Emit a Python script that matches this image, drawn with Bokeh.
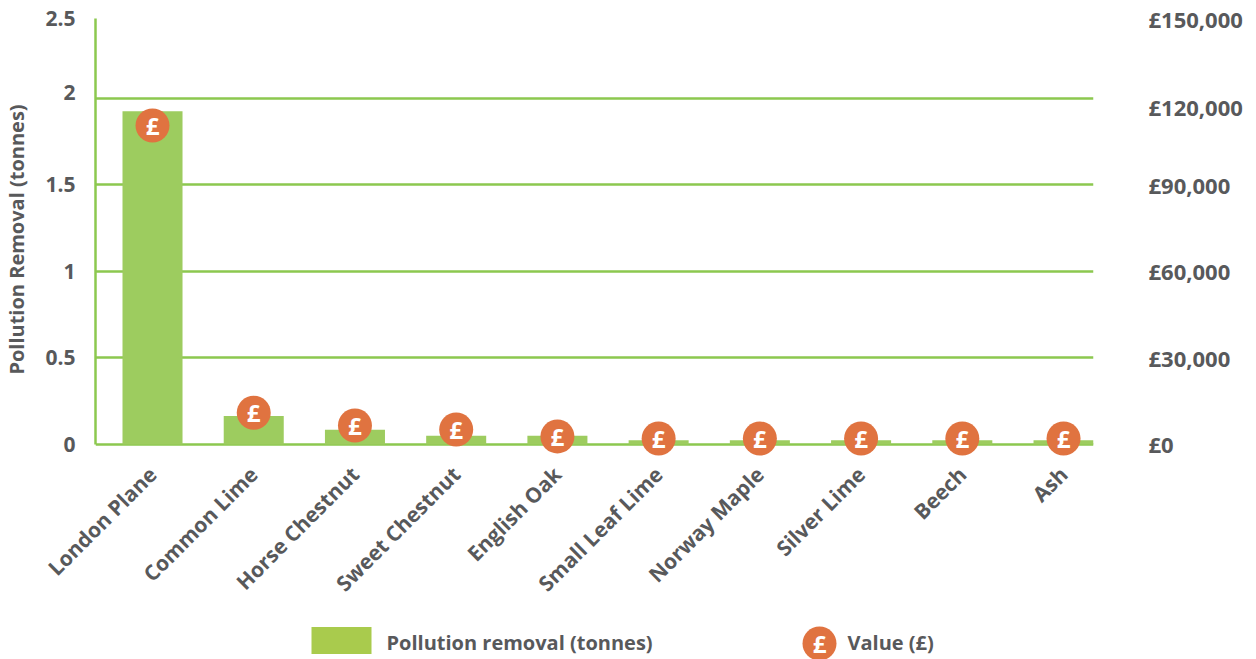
import math
from bokeh.plotting import figure
from bokeh.layouts import column
from bokeh.models import Range1d, LinearAxis, FixedTicker
from bokeh.core.properties import value
from bokeh.embed import file_html
from bokeh.resources import INLINE

categories = ["London Plane", "Common Lime", "Horse Chestnut", "Sweet Chestnut", "English Oak",
              "Small Leaf Lime", "Norway Maple", "Silver Lime", "Beech", "Ash"]
pollution_tonnes = [1.925, 0.165, 0.085, 0.05, 0.05, 0.025, 0.025, 0.025, 0.025, 0.025]
value_gbp = [110500, 11000, 6600, 5200, 2800, 2100, 2100, 2100, 2100, 2100]
left_ticks = [0, 0.5, 1, 1.5, 2.035, 2.46]
left_labels = ["0", "0.5", "1", "1.5", "2", "2.5"]
right_ticks = [0, 30000, 60000, 90000, 116900, 147600]
right_labels = ["£0", "£30,000", "£60,000", "£90,000", "£120,000", "£150,000"]
legend_labels = ["Pollution removal (tonnes)", "Value (£)"]

FONT = "Open Sans"
GREY = "#58595b"
GREEN_LINE = "#8cc84f"
BAR = "#9dcc5f"
ORANGE = "#e07340"
xs = list(range(len(categories)))
Y_FLOOR = -0.0925  # room below zero so the round markers are not clipped at the frame

p = figure(width=1256, height=621, output_backend="svg", toolbar_location=None,
           x_range=Range1d(-0.5632, 9.296), y_range=Range1d(Y_FLOOR, 2.46),
           min_border_left=95, min_border_right=163, min_border_top=18, min_border_bottom=161)
p.background_fill_color = None
p.border_fill_color = None
p.outline_line_color = None
p.xgrid.visible = False
p.ygrid.ticker = FixedTicker(ticks=[0, 0.5, 1, 1.5, 2])
p.ygrid.grid_line_color = GREEN_LINE
p.ygrid.grid_line_width = 2.5

p.extra_y_ranges = {"value": Range1d(Y_FLOOR * 60000, 147600)}
p.vbar(x=xs, top=pollution_tonnes, width=0.593, color=BAR, line_color=None)
p.scatter(x=xs, y=value_gbp, y_range_name="value", size=34, marker="circle",
          fill_color=ORANGE, line_color=None)
p.text(x=xs, y=value_gbp, y_range_name="value", text=["£"] * len(xs), text_align="center",
       text_baseline="middle", text_color="white", text_font=value(FONT),
       text_font_style="bold", text_font_size="24px")

ax = p.xaxis[0]
ax.ticker = FixedTicker(ticks=xs)
ax.major_label_overrides = {i: c for i, c in enumerate(categories)}
ax.major_label_orientation = math.pi / 4
ax.major_label_standoff = 4
ax.major_tick_line_color = None
ax.minor_tick_line_color = None
ax.axis_line_color = None
ax.major_label_text_font = FONT
ax.major_label_text_font_style = "bold"
ax.major_label_text_font_size = "21px"
ax.major_label_text_color = GREY

ay = p.yaxis[0]
ay.bounds = (0, 2.46)
ay.ticker = FixedTicker(ticks=left_ticks)
ay.major_label_overrides = dict(zip(left_ticks, left_labels))
ay.major_tick_line_color = None
ay.minor_tick_line_color = None
ay.axis_line_color = GREEN_LINE
ay.axis_line_width = 2.5
ay.major_label_text_font = FONT
ay.major_label_text_font_style = "bold"
ay.major_label_text_font_size = "21px"
ay.major_label_text_color = GREY
ay.major_label_standoff = 14
ay.axis_label = "Pollution Removal (tonnes)"
ay.axis_label_text_font = FONT
ay.axis_label_text_font_style = "bold"
ay.axis_label_text_font_size = "20px"
ay.axis_label_text_color = GREY
ay.axis_label_standoff = 12

ar = LinearAxis(y_range_name="value", ticker=FixedTicker(ticks=right_ticks), bounds=(0, 147600))
ar.major_label_overrides = dict(zip(right_ticks, right_labels))
ar.major_tick_line_color = None
ar.minor_tick_line_color = None
ar.axis_line_color = None
ar.major_label_text_font = FONT
ar.major_label_text_font_style = "bold"
ar.major_label_text_font_size = "22px"
ar.major_label_text_color = GREY
ar.major_label_standoff = 49
p.add_layout(ar, "right")

# legend strip: the frame lines up with the chart's, so its x units are page pixels
leg = figure(width=1256, height=38, output_backend="svg", toolbar_location=None,
             x_range=Range1d(95, 1093), y_range=Range1d(0, 38),
             min_border=0, min_border_left=95, min_border_right=163,
             x_axis_location=None, y_axis_location=None)
leg.background_fill_color = None
leg.border_fill_color = None
leg.outline_line_color = None
leg.grid.visible = False
leg.rect(x=[341], y=[19], width=60, height=27, color="#a9cb4d", line_color=None)
leg.scatter(x=[819], y=[16], size=34, marker="circle", fill_color=ORANGE, line_color=None)
leg.text(x=[819], y=[16], text=["£"], text_align="center", text_baseline="middle",
         text_color="white", text_font=value(FONT), text_font_style="bold", text_font_size="24px")
leg.text(x=[386, 847], y=[17, 17], text=legend_labels, text_align="left", text_baseline="middle",
         text_color=GREY, text_font=value(FONT), text_font_style="bold", text_font_size="20px")

page = column(p, leg, spacing=0)
open("out.html", "w").write(file_html(page, INLINE))
